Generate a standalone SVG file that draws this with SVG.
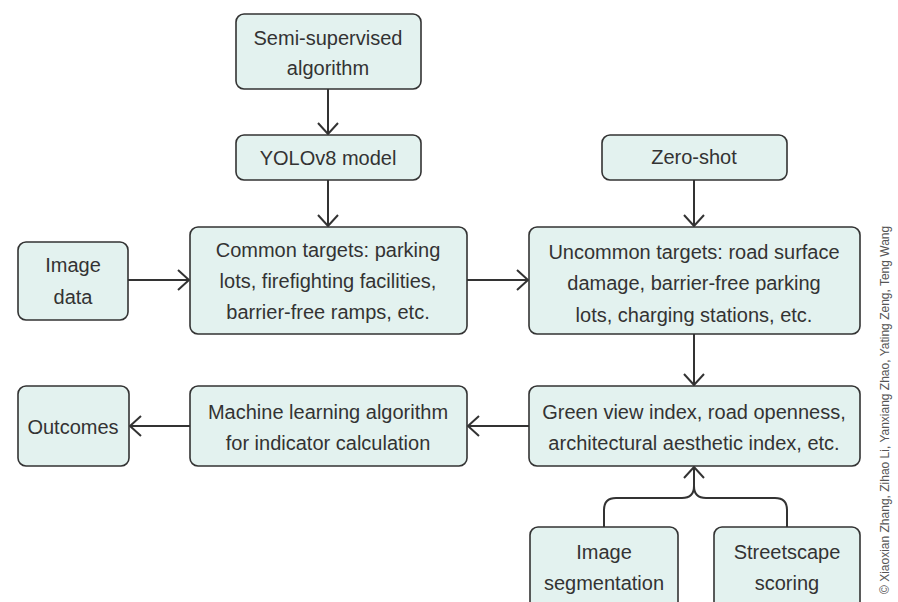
<svg xmlns="http://www.w3.org/2000/svg" width="898" height="602" viewBox="0 0 898 602">
<style>
.box{fill:#e3f2ef;stroke:#333;stroke-width:1.6}
.t{font-family:"Liberation Sans","DejaVu Sans",sans-serif;font-size:20px;fill:#333;text-anchor:middle}
.c{fill:none;stroke:#333;stroke-width:2}
.cr{font-family:"Liberation Sans",Arial,sans-serif;font-size:12px;fill:#555}
</style>
<defs>
<marker id="ah" markerUnits="userSpaceOnUse" markerWidth="14" markerHeight="22" viewBox="0 0 14 22" refX="12" refY="11" orient="auto">
<path d="M1,1 L12,11 L1,21" fill="none" stroke="#333" stroke-width="2"/>
</marker>
</defs>
<g id="connectors">
<path class="c" d="M328,89 V134" marker-end="url(#ah)"/>
<path class="c" d="M328,180 V226" marker-end="url(#ah)"/>
<path class="c" d="M128,280 H189" marker-end="url(#ah)"/>
<path class="c" d="M467,280 H528" marker-end="url(#ah)"/>
<path class="c" d="M694,180 V226" marker-end="url(#ah)"/>
<path class="c" d="M694,334 V385" marker-end="url(#ah)"/>
<path class="c" d="M529,426 H468" marker-end="url(#ah)"/>
<path class="c" d="M190,426 H130" marker-end="url(#ah)"/>
<path class="c" d="M604,527 V510 Q604,498 616,498 H682 Q694,498 694,486 V467" marker-end="url(#ah)"/>
<path class="c" d="M787,527 V510 Q787,498 775,498 H706 Q694,498 694,486"/>
</g>
<g id="semi"><rect class="box" x="236" y="14" width="185" height="75" rx="8"/><text class="t" x="328" y="45">Semi-supervised</text><text class="t" x="328" y="75">algorithm</text></g>
<g id="yolo"><rect class="box" x="236" y="135" width="185" height="45" rx="8"/><text class="t" x="328" y="165">YOLOv8 model</text></g>
<g id="imagedata"><rect class="box" x="18" y="242" width="110" height="78" rx="8"/><text class="t" x="73" y="272">Image</text><text class="t" x="73" y="304">data</text></g>
<g id="common"><rect class="box" x="190" y="227" width="277" height="107" rx="8"/><text class="t" x="328" y="257">Common targets: parking</text><text class="t" x="328" y="288">lots, firefighting facilities,</text><text class="t" x="328" y="319">barrier-free ramps, etc.</text></g>
<g id="zeroshot"><rect class="box" x="602" y="135" width="185" height="45" rx="8"/><text class="t" x="694" y="164">Zero-shot</text></g>
<g id="uncommon"><rect class="box" x="529" y="227" width="331" height="107" rx="8"/><text class="t" x="694" y="259">Uncommon targets: road surface</text><text class="t" x="694" y="290">damage, barrier-free parking</text><text class="t" x="694" y="322">lots, charging stations, etc.</text></g>
<g id="outcomes"><rect class="box" x="18" y="386" width="111" height="80" rx="8"/><text class="t" x="73" y="434">Outcomes</text></g>
<g id="ml"><rect class="box" x="190" y="386" width="277" height="80" rx="8"/><text class="t" x="328" y="419">Machine learning algorithm</text><text class="t" x="328" y="450">for indicator calculation</text></g>
<g id="green"><rect class="box" x="529" y="386" width="331" height="80" rx="8"/><text class="t" x="694" y="419">Green view index, road openness,</text><text class="t" x="694" y="450">architectural aesthetic index, etc.</text></g>
<g id="segmentation"><rect class="box" x="530" y="527" width="148" height="85" rx="8"/><text class="t" x="604" y="559">Image</text><text class="t" x="604" y="590">segmentation</text></g>
<g id="streetscape"><rect class="box" x="714" y="527" width="146" height="85" rx="8"/><text class="t" x="787" y="559">Streetscape</text><text class="t" x="787" y="590">scoring</text></g>
<text class="cr" transform="translate(889,594) rotate(-90)">© Xiaoxian Zhang, Zihao Li, Yanxiang Zhao, Yating Zeng, Teng Wang</text>
</svg>
